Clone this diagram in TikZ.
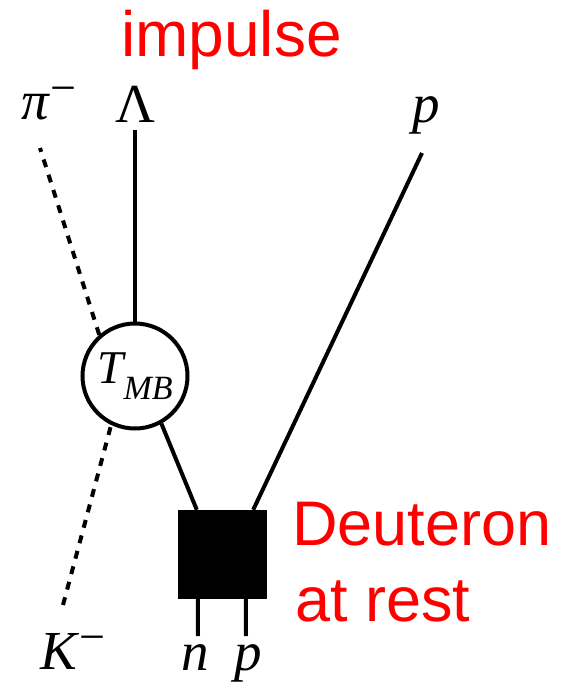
\documentclass[tikz,border=0pt]{standalone}
\usepackage{fontspec}
\setmainfont{Liberation Serif}
\newfontfamily\sanslab{Liberation Sans}
\newcommand{\supminus}{\raisebox{0.3em}{\fontsize{46}{46}\selectfont −}}
\begin{document}
\begin{tikzpicture}[x=1pt,y=-1pt,
  line/.style={line width=4pt},
  dline/.style={line width=4pt, dash pattern=on 8pt off 8pt},
  lab/.style={inner sep=0pt, font=\fontsize{55}{55}\selectfont},
  redlab/.style={inner sep=0pt, text=red, font=\sanslab\fontsize{63}{63}\selectfont, anchor=base west}]
\useasboundingbox (0,0) rectangle (585,682);
% nodes
\node[circle, draw, line width=4pt, minimum size=105pt, inner sep=0pt, fill=white] (tmb) at (135,376)
  {\fontsize{47}{47}\selectfont\textit{T}\kern-0.06em\raisebox{-0.33em}{\fontsize{34}{34}\selectfont\textit{MB}}};
\node[rectangle, fill=black, minimum width=89pt, minimum height=89pt, inner sep=0pt] (box) at (222.5,554.5) {};
% labels
\node[lab, anchor=base] (lam) at (135,123) {Λ};
\node[lab, anchor=base west] (pim) at (21,120) {\textit{π}\supminus};
\node[lab, anchor=base west] (ptop) at (412,123) {\textit{p}};
\node[lab, anchor=base west] (km) at (40,669) {\textit{K}\supminus};
\node[lab, anchor=base] (nlab) at (195,670) {\textit{n}};
\node[lab, anchor=base] (plab) at (248,670) {\textit{p}};
\node[redlab, font=\sanslab\fontsize{64}{64}\selectfont] (imp) at (121,57) {impulse};
\node[redlab] (deu1) at (292,545) {Deuteron};
\node[redlab] (deu2) at (295,621) {at rest};
% end points
\coordinate (lamend) at (135,130);
\coordinate (pimend) at (40,148);
\coordinate (kmend) at (63,605);
\coordinate (ptopend) at (422,153);
\coordinate (nend) at (198,636);
\coordinate (pend) at (246,636);
% connectors
\draw[line] (lamend) -- (tmb.north);
\draw[dline] (tmb.131) -- (pimend);
\draw[dline] (kmend) -- (tmb.244);
\draw[line] (tmb.299) -- ([xshift=19pt]box.north west);
\draw[line] ([xshift=-14pt]box.north east) -- (ptopend);
\draw[line] ([xshift=20pt]box.south west) -- (nend);
\draw[line] ([xshift=68pt]box.south west) -- (pend);
\end{tikzpicture}
\end{document}
